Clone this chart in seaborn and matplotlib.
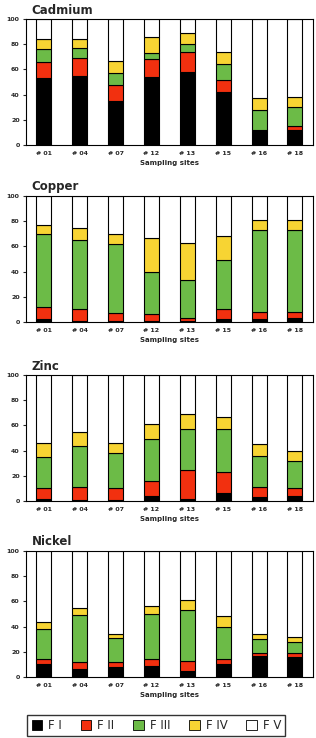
import numpy as np
import matplotlib
matplotlib.use("Agg")
import matplotlib.pyplot as plt
import seaborn as sns
from matplotlib.patches import Patch

sns.set_style("white")
plt.rcParams['font.family'] = ['DejaVu Sans']

# sampling sites and fraction labels
sites = ['# 01', '# 04', '# 07', '# 12', '# 13', '# 15', '# 16', '# 18']
fractions = ['F I', 'F II', 'F III', 'F IV', 'F V']
colors = ['#000000', '#f2300f', '#6cbb47', '#f7d433', '#ffffff']

# percent of each fraction per site
cadmium_f1 = [53, 55, 35, 54, 58, 42, 11, 12]
cadmium_f2 = [13, 14, 13, 14, 16, 10, 1, 3]
cadmium_f3 = [10, 8, 9, 5, 6, 12, 16, 15]
cadmium_f4 = [8, 7, 10, 13, 9, 10, 9, 8]
cadmium_f5 = [16, 16, 33, 14, 11, 26, 63, 62]

copper_f1 = [2, 1, 1, 1, 1, 2, 2, 3]
copper_f2 = [10, 9, 6, 5, 2, 8, 6, 5]
copper_f3 = [58, 55, 55, 34, 30, 39, 65, 65]
copper_f4 = [7, 10, 8, 27, 30, 19, 8, 8]
copper_f5 = [23, 25, 30, 33, 37, 32, 19, 19]

zinc_f1 = [2, 1, 1, 4, 2, 6, 3, 4]
zinc_f2 = [8, 10, 9, 12, 23, 17, 8, 6]
zinc_f3 = [25, 33, 28, 33, 32, 34, 25, 22]
zinc_f4 = [11, 11, 8, 12, 12, 10, 9, 8]
zinc_f5 = [54, 45, 54, 39, 31, 33, 55, 60]

nickel_f1 = [10, 6, 8, 9, 5, 10, 17, 16]
nickel_f2 = [4, 6, 4, 5, 8, 4, 2, 3]
nickel_f3 = [24, 37, 19, 36, 40, 26, 11, 9]
nickel_f4 = [6, 6, 3, 6, 8, 8, 4, 4]
nickel_f5 = [56, 45, 66, 44, 39, 52, 66, 68]

metals = {
    'Cadmium': [cadmium_f1, cadmium_f2, cadmium_f3, cadmium_f4, cadmium_f5],
    'Copper': [copper_f1, copper_f2, copper_f3, copper_f4, copper_f5],
    'Zinc': [zinc_f1, zinc_f2, zinc_f3, zinc_f4, zinc_f5],
    'Nickel': [nickel_f1, nickel_f2, nickel_f3, nickel_f4, nickel_f5],
}

fig = plt.figure(figsize=(3.16, 7.38), dpi=100)
# axes bottoms in figure fractions
bottoms = [0.8035, 0.5637, 0.3211, 0.0827]

for (metal, parts), yb in zip(metals.items(), bottoms):
    ax = fig.add_axes([0.082, yb, 0.908, 0.1707])
    base = np.zeros(len(sites))
    for vals, col in zip(parts, colors):
        sns.barplot(x=sites, y=vals, bottom=base, color=col, edgecolor='black',
                    linewidth=0.8, width=0.42, saturation=1, ax=ax)
        base = base + np.array(vals)
    ax.set_ylim(0, 100)
    ax.set_xlim(-0.5, 7.5)
    ax.set_yticks([0, 20, 40, 60, 80, 100])
    ax.tick_params(axis='y', length=2.5, width=0.8, labelsize=4.5, pad=2, left=True)
    ax.tick_params(axis='x', length=0, labelsize=4.5, pad=4)
    for lab in ax.get_xticklabels() + ax.get_yticklabels():
        lab.set_fontweight('bold')
    ax.set_xlabel('Sampling sites', fontsize=5, fontweight='bold', labelpad=3)
    ax.set_ylabel('')
    for sp in ax.spines.values():
        sp.set_linewidth(0.8)
        sp.set_color('black')
    ax.text(0.02, 1.02, metal, transform=ax.transAxes, fontsize=8.5,
            fontweight='semibold', ha='left', va='bottom')

handles = [Patch(facecolor=c, edgecolor='black', linewidth=0.6) for c in colors]
fig.legend(handles, fractions, loc='center', bbox_to_anchor=(0.495, 0.0165),
           ncol=5, fontsize=8.5, frameon=True, fancybox=False, edgecolor='black',
           handlelength=0.9, handleheight=0.9, handletextpad=0.5,
           columnspacing=1.6, borderpad=0.35)

fig.savefig('out.png', dpi=100)
